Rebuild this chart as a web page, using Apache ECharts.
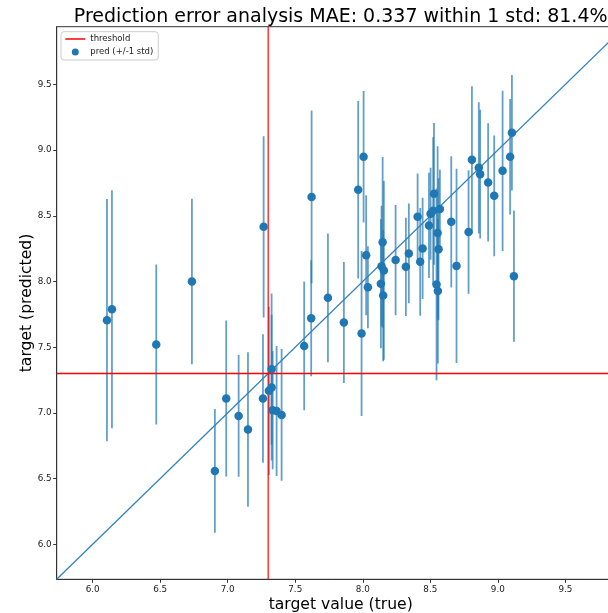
<!DOCTYPE html>
<html>
<head>
<meta charset="utf-8">
<script src="https://cdn.jsdelivr.net/npm/echarts@6/dist/echarts.min.js"></script>
<style>
html, body { margin: 0; padding: 0; background: #fff; }
#chart { width: 608px; height: 613px; }
</style>
</head>
<body>
<div id="chart"></div>
<script>
// true target values (x)
var trueVals = [6.106, 6.143, 6.471, 6.735, 6.905, 6.989, 7.081, 7.150, 7.261, 7.266,
                7.305, 7.325, 7.325, 7.333, 7.362, 7.399, 7.566, 7.618, 7.621, 7.742,
                7.860, 7.966, 7.991, 8.006, 8.025, 8.038, 8.147, 8.139, 8.156, 8.134,
                8.151, 8.243, 8.319, 8.341, 8.406, 8.425, 8.443, 8.490, 8.502, 8.521,
                8.527, 8.571, 8.554, 8.561, 8.546, 8.556, 8.655, 8.694, 8.783, 8.808,
                8.859, 8.869, 8.928, 8.973, 9.035, 9.091, 9.104, 9.119];
// predicted values (y)
var predVals = [7.706, 7.789, 7.521, 8.000, 6.559, 7.110, 6.977, 6.874, 7.110, 8.416,
                7.168, 7.193, 7.333, 7.021, 7.015, 6.985, 7.510, 7.721, 8.644, 7.876,
                7.688, 8.698, 7.605, 8.949, 8.200, 7.957, 8.298, 8.117, 8.084, 7.983,
                7.893, 8.163, 8.112, 8.214, 8.492, 8.150, 8.252, 8.427, 8.515, 8.538,
                8.667, 8.551, 8.370, 8.246, 7.978, 7.927, 8.454, 8.119, 8.376, 8.926,
                8.865, 8.817, 8.754, 8.652, 8.842, 8.949, 9.132, 8.041];
// one std of the prediction
var predStd = [0.921, 0.906, 0.609, 0.630, 0.470, 0.594, 0.463, 0.588, 0.489, 0.690,
               0.640, 0.555, 0.576, 0.450, 0.495, 0.501, 0.490, 0.441, 0.657, 0.490,
               0.461, 0.675, 0.628, 0.500, 0.456, 0.312, 0.650, 0.460, 0.680, 0.490,
               0.500, 0.420, 0.374, 0.380, 0.330, 0.410, 0.385, 0.400, 0.350, 0.560,
               0.540, 0.300, 0.660, 0.540, 0.730, 0.550, 0.500, 0.740, 0.470, 0.560,
               0.500, 0.490, 0.450, 0.460, 0.610, 0.440, 0.440, 0.500];
var tickVals = [6.0, 6.5, 7.0, 7.5, 8.0, 8.5, 9.0, 9.5];
var threshold = 7.3;
var axisMin = 5.734, axisMax = 9.939;

var FONT = 'DejaVu Sans';
var BLUE = '#1f77b4';

// points and error bars
var points = [], bars = [];
for (var i = 0; i < trueVals.length; i++) {
    points.push([trueVals[i], predVals[i]]);
    bars.push([trueVals[i], predVals[i] - predStd[i], predVals[i] + predStd[i]]);
}

function renderBar(params, api) {
    var p1 = api.coord([api.value(0), api.value(1)]);
    var p2 = api.coord([api.value(0), api.value(2)]);
    return {
        type: 'line',
        shape: { x1: p1[0], y1: p1[1], x2: p2[0], y2: p2[1] },
        style: { stroke: 'rgba(31,119,180,0.7)', lineWidth: 1.8 }
    };
}

function axisCfg(name, gap) {
    return {
        type: 'value',
        min: axisMin,
        max: axisMax,
        name: name,
        nameLocation: 'middle',
        nameGap: gap,
        nameMoveOverlap: false,
        nameTextStyle: { fontFamily: FONT, fontSize: 15.6, color: '#000' },
        splitLine: { show: false },
        axisLine: { show: true, lineStyle: { color: '#333', width: 1 } },
        axisTick: { show: true, length: 3.5, customValues: tickVals, lineStyle: { color: '#333' } },
        axisLabel: {
            customValues: tickVals,
            fontFamily: FONT, fontSize: 8.8, color: '#222', margin: 6,
            formatter: function (v) { return v.toFixed(1); }
        }
    };
}

var chart = echarts.init(document.getElementById('chart'));
var xAx = axisCfg('target value (true)', 18);
var yAx = axisCfg('target (predicted)', 22);
yAx.axisLabel.margin = 5;

chart.setOption({
    animation: false,
    graphic: [{
        type: 'text', x: 340.7, y: 17,
        style: {
            text: 'Prediction error analysis MAE: 0.337 within 1 std: 81.4%',
            font: '19px "DejaVu Sans"', fill: '#000',
            textAlign: 'center', textVerticalAlign: 'middle'
        }
    }],
    grid: {
        left: 56.7, top: 26.7, width: 568, height: 552.6,
        outerBoundsMode: 'none', containLabel: false,
        show: true, borderColor: '#333', borderWidth: 1, backgroundColor: 'transparent'
    },
    legend: {
        left: 61, top: 31.7,
        orient: 'vertical',
        itemWidth: 20, itemHeight: 7, itemGap: 3,
        padding: [2.3, 5, 3, 3.3],
        backgroundColor: 'rgba(255,255,255,0.85)',
        borderColor: '#ccc', borderWidth: 1, borderRadius: 3,
        textStyle: { fontFamily: FONT, fontSize: 8.5, lineHeight: 10, color: '#222' },
        data: [
            { name: 'threshold', itemStyle: { opacity: 0 } },
            { name: 'pred (+/-1 std)', icon: 'circle' }
        ]
    },
    xAxis: xAx,
    yAxis: yAx,
    series: [
        {
            name: 'errbar', type: 'custom', renderItem: renderBar,
            data: bars, encode: { x: 0, y: [1, 2] }, clip: true, z: 2, silent: true
        },
        {
            name: 'diag', type: 'line', symbol: 'none', z: 3, silent: true,
            data: [[axisMin, axisMin], [axisMax, axisMax]],
            lineStyle: { color: '#3282bf', width: 1.3 }
        },
        {
            name: 'threshold', type: 'line', symbol: 'none', z: 4, silent: true,
            data: [[threshold, axisMin], [threshold, axisMax]],
            lineStyle: { color: 'rgba(255,0,0,0.75)', width: 1.6 },
            itemStyle: { color: 'red' }
        },
        {
            name: 'threshold', type: 'line', symbol: 'none', z: 4, silent: true,
            data: [[axisMin, threshold], [axisMax, threshold]],
            lineStyle: { color: 'red', width: 1.3 },
            itemStyle: { color: 'red' }
        },
        {
            name: 'pred (+/-1 std)', type: 'scatter', z: 5,
            data: points, symbolSize: 8.5,
            itemStyle: { color: BLUE, opacity: 1 }
        }
    ]
});
</script>
</body>
</html>
